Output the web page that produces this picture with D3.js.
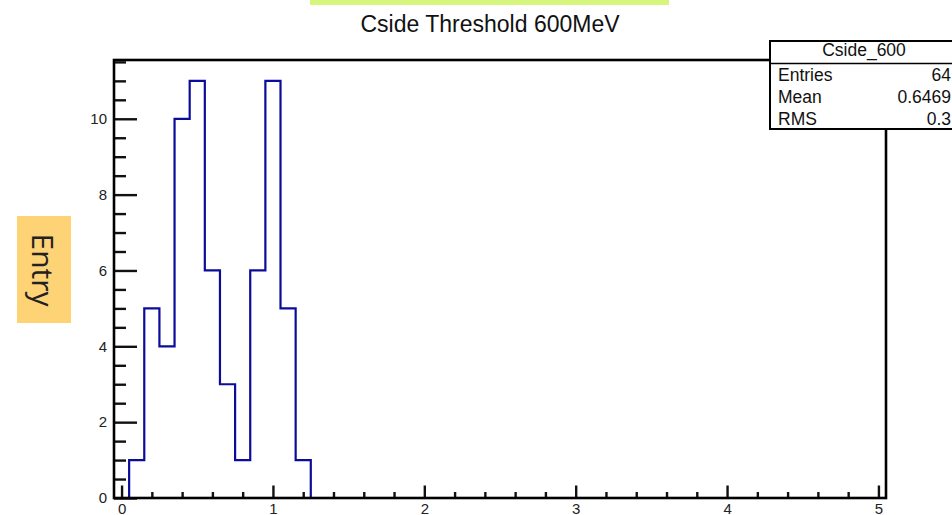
<!DOCTYPE html>
<html>
<head>
<meta charset="utf-8">
<script src="https://cdn.jsdelivr.net/npm/d3@7"></script>
<style>
  body { margin: 0; background: #fff; }
  svg { display: block; font-family: "Liberation Sans", Arial, sans-serif; }
</style>
</head>
<body>
<div id="chart"></div>
<script>
// histogram Cside_600, bins of width 0.1 from -0.05 to 5.05
const binCenters = [0.1, 0.2, 0.3, 0.4, 0.5, 0.6, 0.7, 0.8, 0.9, 1.0, 1.1, 1.2];
const counts     = [1, 5, 4, 10, 11, 6, 3, 1, 6, 11, 5, 1];
const binWidth = 0.1;
const xRange = [-0.05, 5.05];
const yRange = [0, 11.55];
const xMajor = [0, 1, 2, 3, 4, 5];
const xMinor = [0.2, 0.4, 0.6, 0.8, 1.2, 1.4, 1.6, 1.8, 2.2, 2.4, 2.6, 2.8, 3.2, 3.4, 3.6, 3.8, 4.2, 4.4, 4.6, 4.8];
const yMajor = [0, 2, 4, 6, 8, 10];
const yMinor = [0.5, 1, 1.5, 2.5, 3, 3.5, 4.5, 5, 5.5, 6.5, 7, 7.5, 8.5, 9, 9.5, 10.5, 11, 11.5];
const statNames  = ['Entries', 'Mean', 'RMS'];
const statValues = ['64', '0.6469', '0.3'];

const width = 952, height = 515;
const margin = {top: 60, right: 66, bottom: 17, left: 114};

const svg = d3.select('#chart').append('svg')
  .attr('width', width)
  .attr('height', height);

const x = d3.scaleLinear().domain(xRange).range([margin.left, width - margin.right]);
const y = d3.scaleLinear().domain(yRange).range([height - margin.bottom, margin.top]);

// green strip at the top
svg.append('rect')
  .attr('x', 310).attr('y', 0).attr('width', 359).attr('height', 5)
  .attr('fill', '#d7f67e');

svg.append('text')
  .attr('x', 490).attr('y', 32)
  .attr('text-anchor', 'middle')
  .attr('font-size', 23)
  .attr('fill', '#111')
  .text('Cside Threshold 600MeV');

// histogram outline: corner points of every bin
const pts = [[xRange[0], 0], [binCenters[0] - binWidth / 2, 0]];
binCenters.forEach((c, i) => {
  pts.push([c - binWidth / 2, counts[i]]);
  pts.push([c + binWidth / 2, counts[i]]);
});
pts.push([binCenters[binCenters.length - 1] + binWidth / 2, 0]);
pts.push([xRange[1], 0]);

const line = d3.line()
  .x(d => x(d[0]))
  .y(d => y(d[1]));

svg.append('path')
  .datum(pts)
  .attr('fill', 'none')
  .attr('stroke', '#0c0c9c')
  .attr('stroke-width', 2.2)
  .attr('d', line);

// axes
function styleAxis(g) {
  g.select('.domain').remove();
  g.selectAll('line').attr('stroke', '#111').attr('stroke-width', 2.4);
  g.selectAll('text').attr('fill', '#222').attr('font-size', 15)
    .attr('font-family', '"Liberation Sans", Arial, sans-serif');
}

svg.append('g')
  .attr('transform', `translate(${margin.left},0)`)
  .call(d3.axisLeft(y).tickValues(yMajor).tickSize(-23).tickPadding(7).tickFormat(d3.format('d')))
  .call(styleAxis);
svg.append('g')
  .attr('transform', `translate(${margin.left},0)`)
  .call(d3.axisLeft(y).tickValues(yMinor).tickSize(-12).tickFormat(''))
  .call(styleAxis);

svg.append('g')
  .attr('transform', `translate(0,${height - margin.bottom})`)
  .call(d3.axisBottom(x).tickValues(xMajor).tickSize(-12.5).tickPadding(5).tickFormat(d3.format('d')))
  .call(styleAxis);
svg.append('g')
  .attr('transform', `translate(0,${height - margin.bottom})`)
  .call(d3.axisBottom(x).tickValues(xMinor).tickSize(-6).tickFormat(''))
  .call(styleAxis);

// frame
svg.append('rect')
  .attr('x', margin.left).attr('y', margin.top)
  .attr('width', width - margin.left - margin.right)
  .attr('height', height - margin.top - margin.bottom)
  .attr('fill', 'none')
  .attr('stroke', '#000')
  .attr('stroke-width', 2.6);

// stats box
const box = svg.append('g');
box.append('rect')
  .attr('x', 770).attr('y', 41).attr('width', 188).attr('height', 88)
  .attr('fill', '#fff').attr('stroke', '#000').attr('stroke-width', 2);
box.append('line')
  .attr('x1', 770).attr('x2', 958).attr('y1', 63.5).attr('y2', 63.5)
  .attr('stroke', '#000').attr('stroke-width', 1.6);
box.append('text')
  .attr('x', 864).attr('y', 56)
  .attr('text-anchor', 'middle').attr('font-size', 17.5).attr('fill', '#111')
  .text('Cside_600');
statNames.forEach((n, i) => {
  box.append('text')
    .attr('x', 778).attr('y', 81 + i * 22)
    .attr('font-size', 17.5).attr('fill', '#111')
    .text(n);
  box.append('text')
    .attr('x', 951).attr('y', 81 + i * 22)
    .attr('text-anchor', 'end').attr('font-size', 17.5).attr('fill', '#111')
    .text(statValues[i]);
});

// y title
svg.append('rect')
  .attr('x', 17).attr('y', 216).attr('width', 54).attr('height', 107)
  .attr('fill', '#fdd376');
svg.append('text')
  .attr('transform', 'translate(32,270) rotate(90)')
  .attr('text-anchor', 'middle')
  .attr('font-family', '"Open Sans", sans-serif')
  .attr('font-size', 30)
  .attr('fill', '#222')
  .text('Entry');
</script>
</body>
</html>
